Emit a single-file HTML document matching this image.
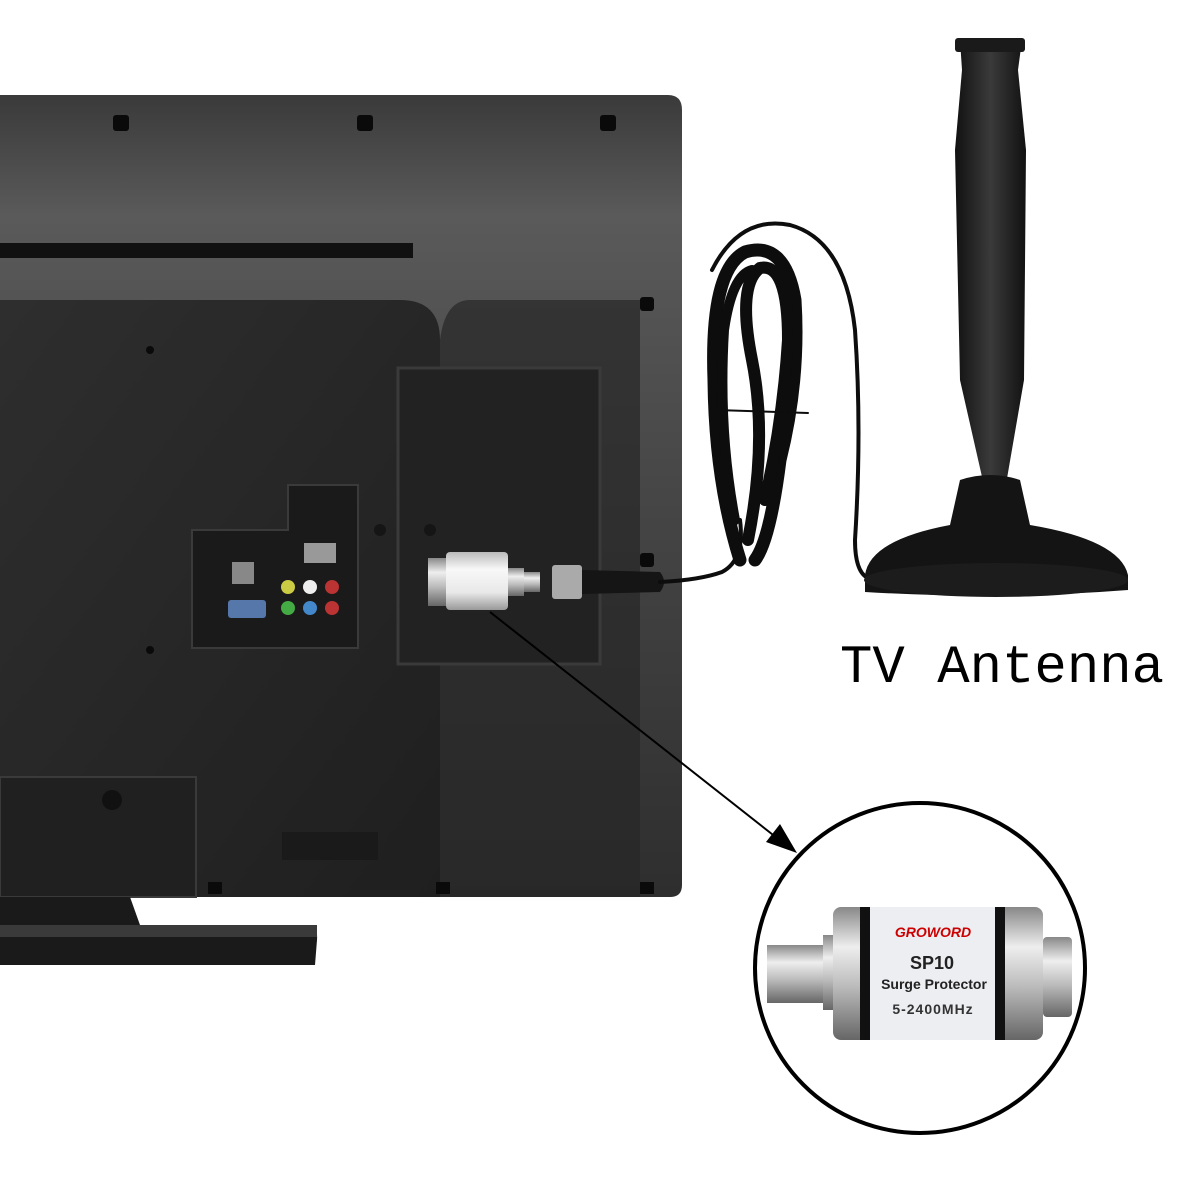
<!DOCTYPE html>
<html><head><meta charset="utf-8">
<style>
html,body{margin:0;padding:0;background:#fff;}
svg{display:block;}
</style></head>
<body>
<svg width="1200" height="1200" viewBox="0 0 1200 1200" xmlns="http://www.w3.org/2000/svg">
<defs>
<linearGradient id="top" x1="0" y1="0" x2="0" y2="1">
<stop offset="0" stop-color="#3a3a3a"/><stop offset="0.15" stop-color="#5a5a5a"/><stop offset="0.5" stop-color="#464646"/><stop offset="1" stop-color="#2e2e2e"/>
</linearGradient>
<linearGradient id="panel" x1="0" y1="0" x2="1" y2="1">
<stop offset="0" stop-color="#2e2e2e"/><stop offset="1" stop-color="#1f1f1f"/>
</linearGradient>
<linearGradient id="metal" x1="0" y1="0" x2="0" y2="1">
<stop offset="0" stop-color="#888"/><stop offset="0.3" stop-color="#eee"/><stop offset="0.6" stop-color="#bbb"/><stop offset="1" stop-color="#666"/>
</linearGradient>
<linearGradient id="body" x1="0" y1="0" x2="0" y2="1">
<stop offset="0" stop-color="#bbb"/><stop offset="0.3" stop-color="#f8f8f8"/><stop offset="0.7" stop-color="#e8e8e8"/><stop offset="1" stop-color="#999"/>
</linearGradient>
<linearGradient id="ant" x1="0" y1="0" x2="1" y2="0">
<stop offset="0" stop-color="#111"/><stop offset="0.5" stop-color="#3a3a3a"/><stop offset="1" stop-color="#111"/>
</linearGradient>
</defs>

<path d="M0 95 H668 Q682 95 682 110 V885 Q682 897 670 897 H0 Z" fill="url(#top)"/>
<rect x="0" y="243" width="413" height="15" fill="#111"/>
<path d="M0 300 H400 Q440 300 440 340 V897 H0 Z" fill="url(#panel)"/>
<path d="M440 340 Q445 300 470 300 H640 V897 H440 Z" fill="#272727" opacity="0.7"/>
<rect x="398" y="368" width="202" height="296" fill="#222" stroke="#3a3a3a" stroke-width="3"/>
<g fill="#0a0a0a">
<rect x="113" y="115" width="16" height="16" rx="3"/><rect x="357" y="115" width="16" height="16" rx="3"/><rect x="600" y="115" width="16" height="16" rx="3"/>
<rect x="640" y="297" width="14" height="14" rx="3"/><rect x="640" y="553" width="14" height="14" rx="3"/>
<rect x="208" y="882" width="14" height="12"/><rect x="436" y="882" width="14" height="12"/><rect x="640" y="882" width="14" height="12"/>
<circle cx="150" cy="350" r="4"/><circle cx="150" cy="650" r="4"/><circle cx="380" cy="530" r="6" fill="#151515"/><circle cx="430" cy="530" r="6" fill="#151515"/>
</g>
<path d="M192 530 H288 V485 H358 V648 H192 Z" fill="#1a1a1a" stroke="#3a3a3a" stroke-width="2"/>
<rect x="232" y="562" width="22" height="22" fill="#888"/>
<rect x="228" y="600" width="38" height="18" rx="3" fill="#5577aa"/>
<rect x="304" y="543" width="32" height="20" fill="#999"/>
<g>
<circle cx="288" cy="587" r="7" fill="#cc4"/><circle cx="310" cy="587" r="7" fill="#eee"/><circle cx="332" cy="587" r="7" fill="#b33"/>
<circle cx="288" cy="608" r="7" fill="#4a4"/><circle cx="310" cy="608" r="7" fill="#48c"/><circle cx="332" cy="608" r="7" fill="#b33"/>
</g>
<rect x="282" y="832" width="96" height="28" fill="#1a1a1a"/>
<rect x="0" y="777" width="196" height="120" fill="#202020" stroke="#3a3a3a" stroke-width="2"/>
<circle cx="112" cy="800" r="10" fill="#111"/>
<path d="M0 897 H130 L140 925 H310 Q318 925 317 940 L315 965 H0 Z" fill="#1a1a1a"/>
<rect x="0" y="925" width="317" height="12" fill="#3a3a3a"/>

<rect x="428" y="558" width="18" height="48" fill="url(#metal)"/>
<rect x="446" y="552" width="62" height="58" rx="4" fill="url(#body)"/>
<rect x="508" y="568" width="16" height="28" fill="url(#metal)"/>
<rect x="524" y="572" width="16" height="20" fill="url(#metal)"/>
<rect x="552" y="565" width="30" height="34" rx="3" fill="#aaa"/>
<path d="M582 570 L660 572 Q668 582 660 592 L582 594 Z" fill="#151515"/>

<g fill="none" stroke="#0d0d0d" stroke-linecap="round">
<path stroke-width="4" d="M660 582 Q700 580 722 572 Q745 560 740 520"/>
<path stroke-width="4" d="M712 270 Q740 215 790 225 Q845 240 855 330 Q862 430 855 540 Q855 572 868 578"/>
<path stroke-width="13" d="M740 560 Q715 480 714 380 Q710 270 745 252 Q785 240 795 300 Q800 380 780 460 Q770 540 755 560"/>
<path stroke-width="12" d="M748 540 Q768 440 752 360 Q737 285 760 268 Q788 262 788 340 Q783 420 765 500"/>
<path stroke-width="10" d="M735 520 Q718 430 724 330 Q732 275 752 270"/>
<line x1="716" y1="410" x2="808" y2="413" stroke-width="2"/>
</g>
<path d="M960 40 H1022 L1018 70 L1026 150 L1024 380 L1005 490 H985 L960 380 L955 150 L962 70 Z" fill="url(#ant)"/>
<rect x="955" y="38" width="70" height="14" rx="3" fill="#1a1a1a"/>
<path d="M865 575 Q870 540 950 525 L960 480 Q990 470 1020 480 L1030 525 Q1120 540 1128 575 L1128 590 Q1000 600 865 592 Z" fill="#141414"/>
<ellipse cx="996" cy="580" rx="132" ry="17" fill="#1c1c1c"/>
<text x="840" y="682" font-family="Liberation Mono, monospace" font-size="54" fill="#000">TV Antenna</text>

<line x1="490" y1="612" x2="782" y2="842" stroke="#000" stroke-width="2"/>
<path d="M797 853 L766 842 L780 824 Z" fill="#000"/>

<circle cx="920" cy="968" r="165" fill="#fff" stroke="#000" stroke-width="4"/>
<rect x="767" y="945" width="58" height="58" fill="url(#metal)"/>
<rect x="823" y="935" width="14" height="75" fill="url(#metal)"/>
<rect x="833" y="907" width="210" height="133" rx="8" fill="url(#metal)"/>
<rect x="860" y="907" width="10" height="133" fill="#111"/>
<rect x="870" y="907" width="125" height="133" fill="#eceef2"/>
<rect x="995" y="907" width="10" height="133" fill="#111"/>
<rect x="1043" y="937" width="29" height="80" rx="4" fill="url(#metal)"/>
<text x="933" y="937" text-anchor="middle" font-family="Liberation Sans, sans-serif" font-size="14" font-weight="bold" font-style="italic" fill="#c00">GROWORD</text>
<text x="932" y="969" text-anchor="middle" font-family="Liberation Sans, sans-serif" font-size="18" font-weight="bold" fill="#222">SP10</text>
<text x="934" y="989" text-anchor="middle" font-family="Liberation Sans, sans-serif" font-size="14" font-weight="bold" fill="#222">Surge Protector</text>
<text x="933" y="1014" text-anchor="middle" font-family="Liberation Sans, sans-serif" font-size="14" font-weight="bold" letter-spacing="1" fill="#333">5-2400MHz</text>
</svg>
</body></html>
